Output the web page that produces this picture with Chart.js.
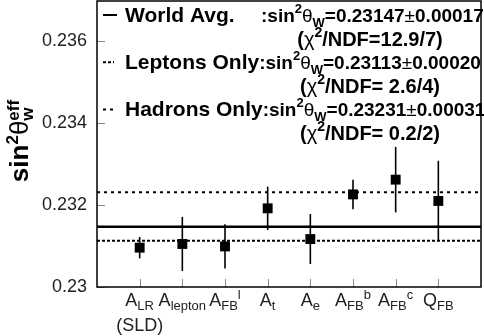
<!DOCTYPE html>
<html>
<head>
<meta charset="utf-8">
<script src="https://cdn.jsdelivr.net/npm/chart.js@4.4.0/dist/chart.umd.min.js"></script>
<style>
  html, body { margin: 0; padding: 0; background: #fff; }
  canvas { display: block; }
</style>
</head>
<body>
<canvas id="myChart" width="484" height="336"></canvas>
<script>
// measurements (x labels split in main / subscript / superscript)
const labelMain = ['A', 'A', 'A', 'A', 'A', 'A', 'A', 'Q'];
const labelSub = ['LR', 'lepton', 'FB', 't', 'e', 'FB', 'FB', 'FB'];
const labelSup = ['', '', 'l', '', '', 'b', 'c', ''];
const labelLine2 = ['(SLD)', '', '', '', '', '', '', ''];
const xPos = [1, 2, 3, 4, 5, 6, 7, 8];
const values = [0.23096, 0.23105, 0.23099, 0.23192, 0.23117, 0.23226, 0.23262, 0.23210];
const errors = [0.00026, 0.00066, 0.00054, 0.00053, 0.00061, 0.00036, 0.00080, 0.00098];

// averages
const avgNames = ['World Avg.', 'Leptons Only', 'Hadrons Only'];
const avgValues = ['0.23147', '0.23113', '0.23231'];
const avgErrors = ['0.00017', '0.00020', '0.00031'];
const avgChi2 = ['12.9/7', ' 2.6/4', ' 0.2/2'];
const avgDash = [[], [3, 2], [3, 4]];

const yTicks = [0.23, 0.232, 0.234, 0.236];
const yMin = 0.23;
const yMax = 0.23698;

const FF = '"Liberation Sans", Arial, Helvetica, sans-serif';
const B = s => `bold ${s}px ${FF}`;
const R = s => `${s}px ${FF}`;

// draws text pieces one after another, "same" puts a piece over the previous one
function rich(ctx, parts, x, y, align) {
    let prevStart = 0, prevEnd = 0;
    const placed = parts.map(p => {
        ctx.font = p.f;
        const w = ctx.measureText(p.t).width;
        const start = p.same ? prevStart : prevEnd;
        const end = p.same ? Math.max(prevEnd, start + w) : start + w;
        prevStart = start;
        prevEnd = end;
        return { p, start };
    });
    const total = prevEnd;
    const x0 = align === 'center' ? x - total / 2 : (align === 'right' ? x - total : x);
    placed.forEach(({ p, start }) => {
        ctx.font = p.f;
        ctx.fillText(p.t, x0 + start, y + (p.dy || 0));
    });
    return x0 + total;
}

const errorBars = {
    id: 'errorBars',
    beforeDatasetsDraw(chart) {
        const { ctx, scales: { x, y } } = chart;
        ctx.save();
        ctx.strokeStyle = '#000';
        ctx.lineWidth = 1.6;
        xPos.forEach((v, i) => {
            const px = x.getPixelForValue(v);
            ctx.beginPath();
            ctx.moveTo(px, y.getPixelForValue(values[i] - errors[i]));
            ctx.lineTo(px, y.getPixelForValue(values[i] + errors[i]));
            ctx.stroke();
        });
        ctx.restore();
    }
};

const decor = {
    id: 'decor',
    afterDraw(chart) {
        const { ctx, chartArea: a, scales: { x, y } } = chart;
        ctx.save();

        // inward ticks
        ctx.strokeStyle = '#888';
        ctx.lineWidth = 1;
        yTicks.forEach(v => {
            const py = Math.round(y.getPixelForValue(v)) + 0.5;
            ctx.beginPath();
            ctx.moveTo(a.left, py);
            ctx.lineTo(a.left + 8, py);
            ctx.stroke();
        });
        xPos.forEach(v => {
            const px = Math.round(x.getPixelForValue(v)) + 0.5;
            ctx.beginPath();
            ctx.moveTo(px, a.bottom);
            ctx.lineTo(px, a.bottom - 8);
            ctx.stroke();
        });

        // frame
        ctx.strokeStyle = '#000';
        ctx.lineWidth = 1.5;
        ctx.strokeRect(a.left, a.top, a.right - a.left, a.bottom - a.top);

        // x labels
        ctx.fillStyle = '#222';
        ctx.textAlign = 'left';
        ctx.textBaseline = 'alphabetic';
        xPos.forEach((v, i) => {
            const px = x.getPixelForValue(v);
            const parts = [{ t: labelMain[i], f: R(18) }, { t: labelSub[i], f: R(13), dy: 4 }];
            if (labelSup[i]) parts.push({ t: labelSup[i], f: R(13), dy: -7 });
            rich(ctx, parts, px, 306, 'center');
            if (labelLine2[i]) rich(ctx, [{ t: labelLine2[i], f: R(18) }], px, 331, 'center');
        });

        // y title
        ctx.fillStyle = '#000';
        ctx.save();
        ctx.translate(20, 141);
        ctx.rotate(-Math.PI / 2);
        rich(ctx, [
            { t: 'sin', f: B(26) },
            { t: '2', f: B(17), dy: -10 },
            { t: 'θ', f: R(26) },
            { t: 'w', f: B(17), dy: 5 },
            { t: 'eff', f: B(17), dy: -9, same: true }
        ], 0, 8, 'center');
        ctx.restore();

        // legend
        avgNames.forEach((name, i) => {
            const base = 22 + i * 47.2;
            ctx.strokeStyle = '#000';
            ctx.lineWidth = 2;
            ctx.setLineDash(avgDash[i]);
            ctx.beginPath();
            ctx.moveTo(103, base - 7);
            ctx.lineTo(i === 0 ? 117 : 114, base - 7);
            ctx.stroke();
            ctx.setLineDash([]);

            ctx.fillStyle = '#000';
            let end = rich(ctx, [{ t: name, f: B(21) }], 125, base, 'left');
            if (i === 0) end = 261;
            rich(ctx, [
                { t: ':sin', f: B(19) },
                { t: '2', f: B(13), dy: -9 },
                { t: 'θ', f: R(19) },
                { t: 'W', f: B(13), dy: 5 },
                { t: '=' + avgValues[i], f: B(19) },
                { t: '±', f: R(19) },
                { t: avgErrors[i], f: B(19) }
            ], end, base, 'left');
            rich(ctx, [
                { t: '(', f: B(20) },
                { t: 'χ', f: R(20) },
                { t: '2', f: B(14), dy: -9 },
                { t: '/NDF=' + avgChi2[i] + ')', f: B(20) }
            ], 370, base + 23.5, 'center');
        });

        ctx.restore();
    }
};

const datasets = [{
    label: 'measurements',
    data: xPos.map((v, i) => ({ x: v, y: values[i] })),
    pointStyle: 'rect',
    pointRadius: 7,
    pointHoverRadius: 7,
    backgroundColor: '#000',
    borderColor: '#000',
    borderWidth: 0,
    showLine: false
}];
avgNames.forEach((name, i) => {
    datasets.push({
        label: name,
        data: [{ x: 0, y: +avgValues[i] }, { x: 9, y: +avgValues[i] }],
        showLine: true,
        pointRadius: 0,
        borderColor: '#000',
        borderWidth: i === 0 ? 2.5 : 2,
        borderDash: avgDash[i],
        fill: false
    });
});

const config = {
    type: 'scatter',
    data: { datasets },
    options: {
        responsive: false,
        animation: false,
        devicePixelRatio: 1,
        layout: { autoPadding: false, padding: { top: 1, right: 3, left: 0, bottom: 0 } },
        plugins: { legend: { display: false }, tooltip: { enabled: false } },
        scales: {
            x: {
                type: 'linear',
                min: 0,
                max: 9,
                grid: { display: false, drawTicks: false },
                border: { display: false },
                ticks: { display: false },
                afterFit: s => { s.height = 49; s.paddingLeft = 0; s.paddingRight = 0; }
            },
            y: {
                type: 'linear',
                min: yMin,
                max: yMax,
                bounds: 'data',
                grid: { display: false, drawTicks: false },
                border: { display: false },
                afterBuildTicks: s => {
                    s.ticks = yTicks.map(v => ({ value: v }));
                    s.min = yMin;
                    s.max = yMax;
                },
                ticks: {
                    padding: 10,
                    color: '#222',
                    font: { family: FF, size: 18 },
                    callback: v => String(parseFloat(v.toFixed(4)))
                },
                afterFit: s => { s.width = 97; s.paddingTop = 0; s.paddingBottom = 0; }
            }
        }
    },
    plugins: [errorBars, decor]
};

new Chart(document.getElementById('myChart'), config);
</script>
</body>
</html>
